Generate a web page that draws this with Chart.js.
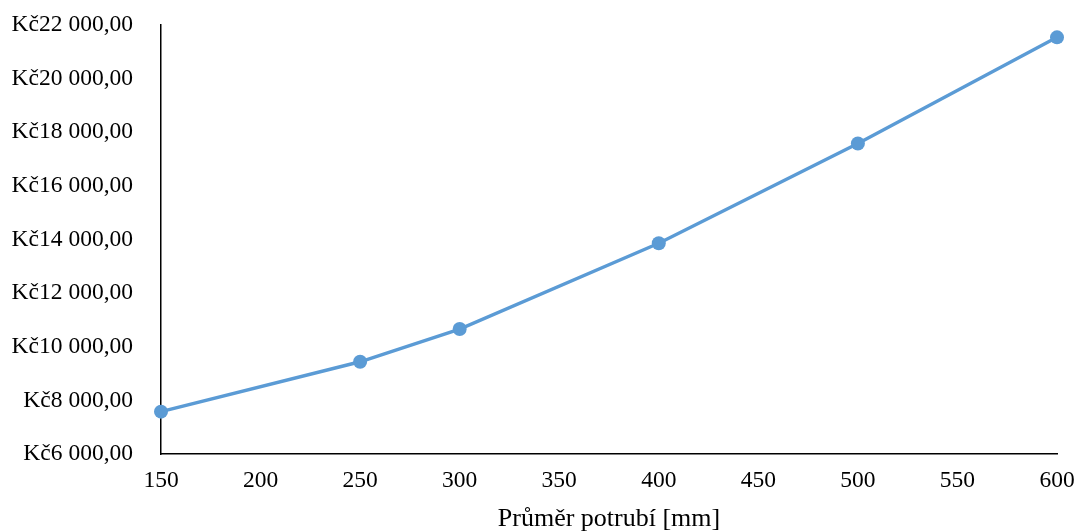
<!DOCTYPE html>
<html lang="cs">
<head>
<meta charset="utf-8">
<title>Cena potrubí podle průměru</title>
<script src="https://cdn.jsdelivr.net/npm/chart.js@4/dist/chart.umd.min.js"></script>
<style>
  html, body { margin: 0; padding: 0; background: #ffffff; }
  #wrap { width: 1078px; height: 532px; position: relative; }
</style>
</head>
<body>
<div id="wrap"><canvas id="c" width="1078" height="532"></canvas></div>
<script>
// Pipe diameter [mm] and corresponding price [Kč]
const diameters = [150, 250, 300, 400, 500, 600];
const prices = [7580, 9440, 10660, 13860, 17580, 21540];

// Axis ranges and tick steps
const xRange = { min: 150, max: 600, step: 50 };
const yRange = { min: 6000, max: 22000, step: 2000 };

const xTitle = 'Průměr potrubí [mm]';

const fontFamily = '"Liberation Serif", "Times New Roman", serif';
const lineColor = '#5b9bd5';

function formatKc(v) {
  const whole = Math.round(v).toString().replace(/\B(?=(\d{3})+(?!\d))/g, ' ');
  return 'Kč' + whole + ',00';
}

const points = diameters.map((d, i) => ({ x: d, y: prices[i] }));

new Chart(document.getElementById('c'), {
  type: 'line',
  data: {
    datasets: [{
      data: points,
      borderColor: lineColor,
      backgroundColor: lineColor,
      borderWidth: 3.4,
      pointRadius: 7,
      pointHoverRadius: 7,
      pointBorderWidth: 0,
      tension: 0,
      clip: false
    }]
  },
  options: {
    responsive: false,
    animation: false,
    devicePixelRatio: 1,
    layout: { padding: { top: 25, right: 21, left: 0, bottom: 0 } },
    plugins: { legend: { display: false }, tooltip: { enabled: false } },
    scales: {
      x: {
        type: 'linear',
        min: xRange.min,
        max: xRange.max,
        grid: { display: false, drawTicks: false },
        border: { display: true, color: '#000000', width: 1.5 },
        ticks: {
          stepSize: xRange.step,
          color: '#000000',
          padding: 13,
          font: { family: fontFamily, size: 23.5 },
          maxRotation: 0
        },
        title: {
          display: true,
          text: xTitle,
          color: '#000000',
          padding: 0,
          font: { family: fontFamily, size: 26, lineHeight: 1.0 }
        },
        afterFit(scale) {
          scale.height = 78;
          scale.paddingLeft = 0;
          scale.paddingRight = 0;
        }
      },
      y: {
        type: 'linear',
        min: yRange.min,
        max: yRange.max,
        grid: { display: false, drawTicks: false },
        border: { display: true, color: '#000000', width: 1.5 },
        ticks: {
          stepSize: yRange.step,
          color: '#000000',
          padding: 28,
          font: { family: fontFamily, size: 23.5 },
          callback: (v) => formatKc(v)
        },
        afterFit(scale) {
          scale.width = 161;
          scale.paddingTop = 0;
          scale.paddingBottom = 0;
        }
      }
    }
  }
});
</script>
</body>
</html>
